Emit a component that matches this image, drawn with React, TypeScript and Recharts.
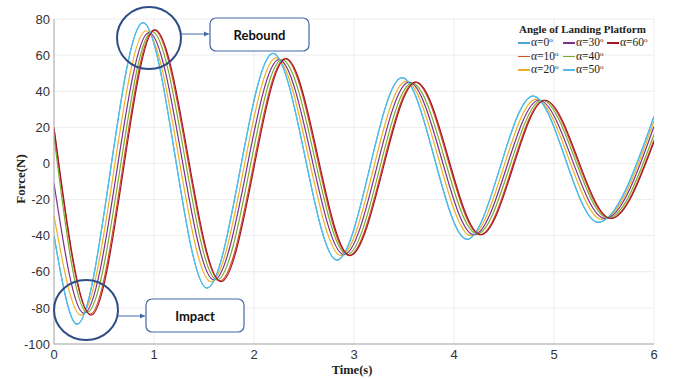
import React from "react";
import { CartesianGrid, Line, LineChart, XAxis, YAxis } from "recharts";

// times (s) of start, troughs and peaks
const tCyan = [0, 0.23, 0.89, 1.53, 2.19, 2.83, 3.48, 4.13, 4.79, 5.44, 6];
const tYellow = [0, 0.27, 0.92, 1.57, 2.22, 2.87, 3.52, 4.17, 4.82, 5.48, 6];
const tPurple = [0, 0.3, 0.95, 1.6, 2.25, 2.9, 3.55, 4.2, 4.85, 5.51, 6];
const tGreen = [0, 0.33, 0.98, 1.63, 2.28, 2.93, 3.58, 4.23, 4.88, 5.54, 6];
const tOrange = [0, 0.36, 1.0, 1.66, 2.31, 2.95, 3.61, 4.26, 4.9, 5.56, 6];
const tDarkRed = [0, 0.37, 1.01, 1.67, 2.32, 2.96, 3.62, 4.27, 4.91, 5.57, 6];

// force (N) at those times
const fCyan = [-40, -89, 78, -69, 61, -53.5, 47.5, -42, 37.3, -32.6, 26];
const fYellow = [-29, -84, 73.5, -65.5, 58.5, -51, 45.5, -40, 35.5, -31, 23.5];
const fPurple = [-11, -83, 72.5, -64.5, 57.5, -50.5, 45, -39.5, 35, -30.5, 20.5];
const fGreen = [15, -82.5, 73, -64.5, 57.5, -50.5, 44.5, -39, 35, -30.3, 16];
const fOrange = [19, -83.5, 74, -65, 58, -51, 45, -39.5, 35, -30.5, 13];
const fDarkRed = [20, -84, 74, -65.5, 58, -51, 45, -39.5, 35, -30.5, 12];

const angles = ["0", "10", "20", "30", "40", "50", "60"];
const colors = ["#4AA6D8", "#D95319", "#EDB120", "#7E2F8E", "#77AC30", "#4DBEEE", "#A2142F"];
const times = [tCyan, tOrange, tYellow, tPurple, tGreen, tCyan, tDarkRed];
const forces = [fCyan, fOrange, fYellow, fPurple, fGreen, fCyan, fDarkRed];

const xTicks = [0, 1, 2, 3, 4, 5, 6];
const yTicks = [-100, -80, -60, -40, -20, 0, 20, 40, 60, 80];

const series = angles.map((a, i) => ({
  name: a,
  color: colors[i],
  data: times[i].map((t, j) => ({ t, f: forces[i][j] })),
}));

const serif = "'Liberation Serif', 'Times New Roman', serif";
const sans = "'Liberation Sans', Arial, sans-serif";

// legend laid out MATLAB style, column by column
const legendCols = [518, 563, 607];
const legendRows = [43, 56.5, 70];

function LegendBox() {
  return (
    <div style={{ position: "absolute", left: 0, top: 0, fontFamily: serif, fontSize: 11.5, color: "#222" }}>
      <div style={{ position: "absolute", left: 519, top: 22, fontSize: 11, fontWeight: "bold", whiteSpace: "nowrap", lineHeight: "14px" }}>
        Angle of Landing Platform
      </div>
      {series.map((s, i) => {
        const col = Math.floor(i / 3);
        const row = i % 3;
        return (
          <div
            key={s.name}
            style={{
              position: "absolute",
              left: legendCols[col],
              top: legendRows[row] - 7,
              height: 14,
              display: "flex",
              alignItems: "center",
              whiteSpace: "nowrap",
              lineHeight: "14px",
            }}
          >
            <span style={{ display: "inline-block", width: 12, height: 1.5, background: s.color, marginRight: 1 }} />
            <span style={{ position: "relative" }}>
              α={s.name}
              <span style={{ fontSize: 7, position: "relative", top: -4 }}>o</span>
            </span>
          </div>
        );
      })}
    </div>
  );
}

const annoBlue = "#2E4C86";

export default function App() {
  return (
    <div style={{ position: "fixed", left: 0, top: 0, width: 678, height: 379, background: "#fff" }}>
      <LineChart width={678} height={379} margin={{ top: 19, right: 24, bottom: 15, left: 14 }}>
        <CartesianGrid stroke="#E8E8E8" strokeWidth={0.8} />
        <XAxis
          type="number"
          dataKey="t"
          domain={[0, 6]}
          ticks={xTicks}
          allowDataOverflow
          height={20}
          stroke="#A8A8A8"
          tickLine={false}
          tickSize={2}
          tickMargin={4}
          tick={{ fontSize: 13, fill: "#333", fontFamily: sans }}
        />
        <YAxis
          type="number"
          domain={[-100, 80]}
          ticks={yTicks}
          allowDataOverflow
          width={40}
          stroke="#A8A8A8"
          tickLine={false}
          tickSize={2}
          tickMargin={2}
          tick={{ fontSize: 13, fill: "#333", fontFamily: sans }}
        />
        {series.map((s) => (
          <Line
            key={s.name}
            data={s.data}
            dataKey="f"
            name={s.name}
            type="monotone"
            stroke={s.color}
            strokeWidth={1.2}
            dot={false}
            isAnimationActive={false}
          />
        ))}
      </LineChart>
      <LegendBox />
      <svg width={678} height={379} style={{ position: "absolute", left: 0, top: 0, pointerEvents: "none" }}>
        <defs>
          <marker id="arr" markerWidth="6" markerHeight="6" refX="5" refY="3" orient="auto">
            <path d="M0,0.5 L5,3 L0,5.5 z" fill="#4467A8" />
          </marker>
        </defs>
        <text x={20} y={179} transform="rotate(-90 20 179)" textAnchor="middle" dominantBaseline="central"
          fontFamily={serif} fontWeight="bold" fontSize={13} fill="#222">Force(N)</text>
        <text x={352} y={370} textAnchor="middle" dominantBaseline="central"
          fontFamily={serif} fontWeight="bold" fontSize={12.5} fill="#222">Time(s)</text>

        <ellipse cx={149} cy={38} rx={32} ry={31} fill="none" stroke={annoBlue} strokeWidth={2} />
        <line x1={181} y1={34} x2={209} y2={34} stroke="#4467A8" strokeWidth={1} markerEnd="url(#arr)" />
        <rect x={210} y={18} width={99} height={33} rx={6} fill="#fff" stroke="#4467A8" strokeWidth={1.2} />
        <text x={259.5} y={35} textAnchor="middle" dominantBaseline="central" fontFamily="Lato, 'Open Sans', sans-serif"
          fontWeight="bold" fontSize={13} fill="#111">Rebound</text>

        <ellipse cx={86} cy={310} rx={32} ry={30} fill="none" stroke={annoBlue} strokeWidth={2} />
        <line x1={118} y1={316} x2={145} y2={316} stroke="#4467A8" strokeWidth={1} markerEnd="url(#arr)" />
        <rect x={146} y={299} width={98} height={33} rx={6} fill="#fff" stroke="#4467A8" strokeWidth={1.2} />
        <text x={195} y={316} textAnchor="middle" dominantBaseline="central" fontFamily="Lato, 'Open Sans', sans-serif"
          fontWeight="bold" fontSize={13} fill="#111">Impact</text>
      </svg>
    </div>
  );
}
